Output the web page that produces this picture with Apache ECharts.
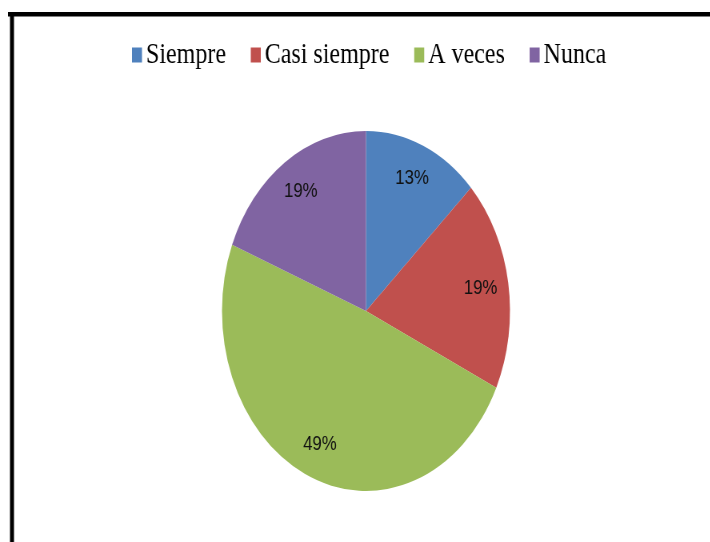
<!DOCTYPE html>
<html>
<head>
<meta charset="utf-8">
<script src="https://cdn.jsdelivr.net/npm/echarts@6/dist/echarts.min.js"></script>
<style>
  html, body { margin: 0; padding: 0; background: #fff; overflow: hidden; }
  /* the original picture is squeezed sideways, so draw wide and scale down */
  #main { width: 888px; height: 542px; transform: scaleX(0.8); transform-origin: 0 0; }
</style>
</head>
<body>
<div id="main"></div>
<script>
const categories = ['Siempre', 'Casi siempre', 'A veces', 'Nunca'];
const values = [13, 19, 49, 19];
const colors = ['#4F81BD', '#C0504D', '#9BBB59', '#8064A2'];

const pieData = categories.map((name, i) => ({ name: name, value: values[i] }));

let myChart = echarts.init(document.getElementById('main'));
const option = {
  animation: false,
  color: colors,
  legend: {
    left: 160,
    top: 35,
    itemWidth: 12.5,
    itemHeight: 15,
    itemGap: 31,
    icon: 'rect',
    textStyle: {
      fontFamily: 'Liberation Serif',
      fontSize: 30,
      color: '#000'
    },
    data: categories
  },
  graphic: [
    // frame: top and left edges only
    { type: 'rect', shape: { x: 10, y: 12, width: 900, height: 4.5 }, style: { fill: '#000' } },
    { type: 'rect', shape: { x: 12.5, y: 12, width: 5, height: 540 }, style: { fill: '#000' } }
  ],
  series: [
    {
      type: 'pie',
      center: [457.5, 311],
      radius: [0, 180],
      startAngle: 90,
      label: { show: false },
      labelLine: { show: false },
      data: pieData
    },
    {
      // invisible copy only to put the labels further out than 'inside'
      type: 'pie',
      center: [457.5, 311],
      radius: [0, 284],
      startAngle: 90,
      silent: true,
      legendHoverLink: false,
      itemStyle: { color: 'transparent' },
      label: {
        position: 'inside',
        formatter: '{d}%',
        fontFamily: 'Liberation Sans',
        fontSize: 21,
        color: '#111'
      },
      labelLine: { show: false },
      data: pieData
    }
  ]
};
myChart.setOption(option);
</script>
</body>
</html>
